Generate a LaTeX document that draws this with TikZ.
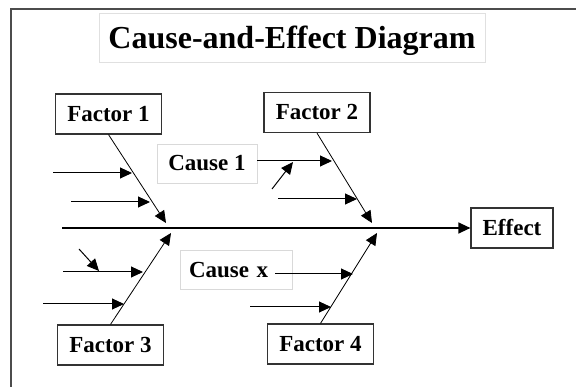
\documentclass[tikz,border=0pt]{standalone}
\usepackage{fontspec}
\setmainfont{Liberation Serif}
\usetikzlibrary{arrows.meta,calc}

\begin{document}
\begin{tikzpicture}
          [x=1pt,y=-1pt,
           factor/.style={rectangle,draw=black!80,line width=1.2pt,fill=white,inner sep=0pt,
                          minimum width=106pt,minimum height=40pt,
                          font=\fontsize{23}{26}\selectfont\bfseries},
           cause/.style={rectangle,draw=black!15,line width=0.8pt,inner sep=0pt,
                         minimum height=39pt,font=\fontsize{23}{26}\selectfont\bfseries},
           bone/.style={draw,->,line width=0.8pt},
           causearrow/.style={draw,->,line width=1pt},
           >={Triangle[length=12pt,width=11pt]}
          ]
          \useasboundingbox (0,0) rectangle (576,387);
          \draw[black!70,line width=1.3pt] (11,387) -- (11,9) -- (576,9);
          \node[draw=black!12,line width=0.8pt,inner sep=0pt,
                minimum width=386pt,minimum height=49pt,text height=22pt,text depth=0pt,
                font=\fontsize{32}{36}\selectfont\bfseries]
                (title) at (292,37.5) {Cause-and-Effect Diagram};
          \node[factor] (f1) at (108.5,114) {Factor 1};
          \node[factor] (f2) at (317,112.5) {Factor 2};
          \node[factor] (f3) at (110.5,345) {Factor 3};
          \node[factor] (f4) at (320.5,344) {Factor 4};
          \node[factor,minimum width=82pt] (effect) at (512,228) {Effect};
          \node[cause,minimum width=100pt] (c1) at (207,163.5) {Cause 1};
          \node[cause,inner xsep=9pt,text width=94pt,align=left] (cx) at (236,270) {Cause x};
          % spine and bones
          \coordinate (sp) at (62,228);
          \coordinate (b1) at (166,223);
          \coordinate (b2) at (372,223);
          \coordinate (b3) at (171,233);
          \coordinate (b4) at (377,233);
          % small causes
          \coordinate (s1) at (53,173);   \coordinate (t1) at (132,173);
          \coordinate (s2) at (71,202);   \coordinate (t2) at (150,202);
          \coordinate (t3) at (332,161);
          \coordinate (s4) at (272,189);  \coordinate (t4) at (293,162);
          \coordinate (s5) at (278,199);  \coordinate (t5) at (357,199);
          \coordinate (s6) at (79,249);   \coordinate (t6) at (99,271);
          \coordinate (s7) at (63,272);   \coordinate (t7) at (143,272);
          \coordinate (s8) at (43,304);   \coordinate (t8) at (124,304);
          \coordinate (s9) at (275,274);  \coordinate (t9) at (353,274);
          \coordinate (s10) at (250,307); \coordinate (t10) at (331,307);
          \draw[->,line width=1.3pt] (sp) -- (effect);
          \path[every edge/.style=bone]
            (f1.south) edge (b1)
            (f2.south) edge (b2)
            (f3.north) edge (b3)
            (f4.north) edge (b4);
          \path[every edge/.style=causearrow]
            (s1) edge (t1)
            (s2) edge (t2)
            (c1.east |- t3) edge (t3)
            (s4) edge (t4)
            (s5) edge (t5)
            (s6) edge (t6)
            (s7) edge (t7)
            (s8) edge (t8)
            (s9) edge (t9)
            (s10) edge (t10);
        \end{tikzpicture}
\end{document}
